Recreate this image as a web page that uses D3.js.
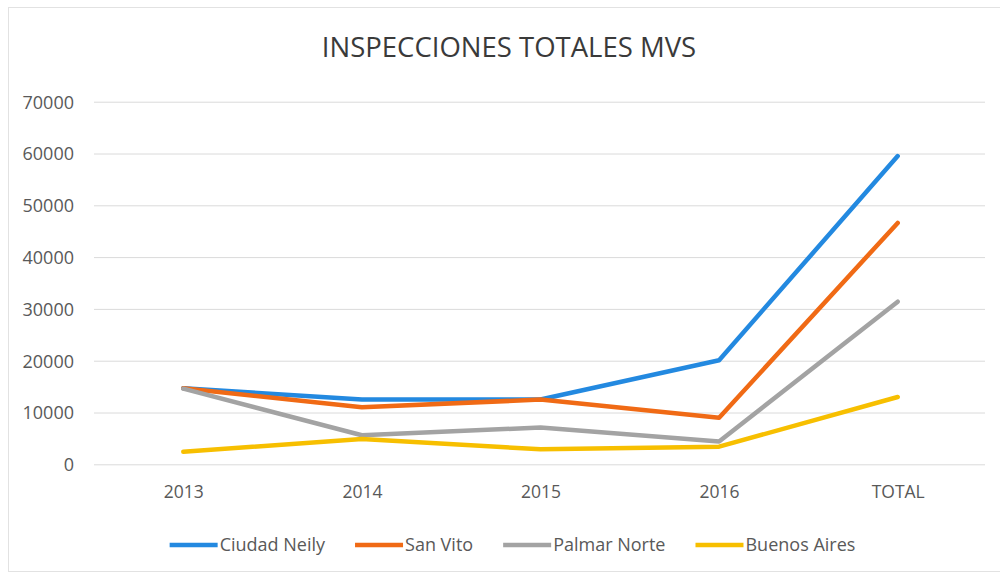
<!DOCTYPE html>
<html>
<head>
<meta charset="utf-8">
<script src="https://cdn.jsdelivr.net/npm/d3@7"></script>
<style>
  body { margin: 0; background: #fff; }
  svg { display: block; font-family: "Open Sans", "Noto Sans", sans-serif; }
  .grid line { stroke: #dadada; stroke-width: 1; }
  .tick-label { fill: #595959; font-size: 18px; }
  .serie { fill: none; stroke-width: 4.5; stroke-linejoin: round; stroke-linecap: round; }
</style>
</head>
<body>
<div id="chart"></div>
<script>
// data
const categories = ["2013", "2014", "2015", "2016", "TOTAL"];
const seriesNames = ["Ciudad Neily", "San Vito", "Palmar Norte", "Buenos Aires"];
const ciudadNeily = [14700, 12500, 12500, 20100, 59500];
const sanVito = [14700, 11000, 12500, 9000, 46600];
const palmarNorte = [14600, 5600, 7100, 4400, 31400];
const buenosAires = [2400, 4900, 2900, 3400, 13000];
const yTicks = [0, 10000, 20000, 30000, 40000, 50000, 60000, 70000];
const colors = ["#2389e0", "#f06a15", "#a3a3a3", "#f7bf00"];

const seriesValues = [ciudadNeily, sanVito, palmarNorte, buenosAires];

const width = 1000, height = 575;
const plot = {left: 94, right: 987, top: 101.7, bottom: 464.3};

const svg = d3.select("#chart")
    .append("svg")
    .attr("width", width)
    .attr("height", height);

// chart frame (faint border of the office chart)
svg.append("rect")
    .attr("x", 8.5)
    .attr("y", 7.5)
    .attr("width", 1000)
    .attr("height", 564)
    .attr("fill", "none")
    .attr("stroke", "#e2e2e2");

const x = d3.scalePoint()
    .domain(categories)
    .range([plot.left, plot.right])
    .padding(0.5);

const y = d3.scaleLinear()
    .domain([0, 70000])
    .range([plot.bottom, plot.top]);

// gridlines
svg.append("g")
    .attr("class", "grid")
    .attr("transform", "translate(" + plot.left + ",0)")
    .call(d3.axisLeft(y).tickValues(yTicks).tickSize(-(plot.right - plot.left - 2)).tickFormat(""))
    .call(g => g.select(".domain").remove());

// y labels
svg.append("g")
    .attr("transform", "translate(74,0)")
    .call(d3.axisLeft(y).tickValues(yTicks).tickSize(0).tickPadding(0).tickFormat(d3.format("d")))
    .attr("font-family", null)
    .attr("font-size", null)
    .call(g => g.select(".domain").remove())
    .call(g => g.selectAll("text")
        .attr("class", "tick-label")
        .attr("dy", "0.35em"));

// x labels
svg.append("g")
    .attr("transform", "translate(0," + 498 + ")")
    .call(d3.axisBottom(x).tickSize(0).tickPadding(0))
    .attr("font-family", null)
    .attr("font-size", null)
    .call(g => g.select(".domain").remove())
    .call(g => g.selectAll("text")
        .attr("class", "tick-label")
        .style("font-size", "17.5px")
        .attr("dy", 0));

// lines
const line = d3.line()
    .x((d, i) => x(categories[i]))
    .y(d => y(d));

seriesValues.forEach((vals, k) => {
    svg.append("path")
        .datum(vals)
        .attr("class", "serie")
        .attr("stroke", colors[k])
        .attr("d", line);
});

// title
svg.append("text")
    .attr("x", 509)
    .attr("y", 57)
    .attr("text-anchor", "middle")
    .attr("fill", "#3a3a3a")
    .style("font-size", "27.5px")
    .text("INSPECCIONES TOTALES MVS");

// legend
const legend = svg.append("g").attr("transform", "translate(0,545)");
const lineLen = 48, gapText = 2, gapItem = 30;
let cx = 0;
const items = [];
seriesNames.forEach((name, k) => {
    const item = legend.append("g");
    item.append("line")
        .attr("x1", 0).attr("x2", lineLen)
        .attr("y1", 0).attr("y2", 0)
        .attr("stroke", colors[k])
        .attr("stroke-width", 4.5);
    const t = item.append("text")
        .attr("x", lineLen + gapText)
        .attr("dy", "0.35em")
        .attr("fill", "#595959")
        .style("font-size", "18px")
        .text(name);
    const w = lineLen + gapText + t.node().getComputedTextLength();
    items.push({item: item, x: cx});
    cx += w + gapItem;
});
const legendW = cx - gapItem;
const legendStart = 512.5 - legendW / 2;
items.forEach(d => d.item.attr("transform", "translate(" + (legendStart + d.x) + ",0)"));
</script>
</body>
</html>
